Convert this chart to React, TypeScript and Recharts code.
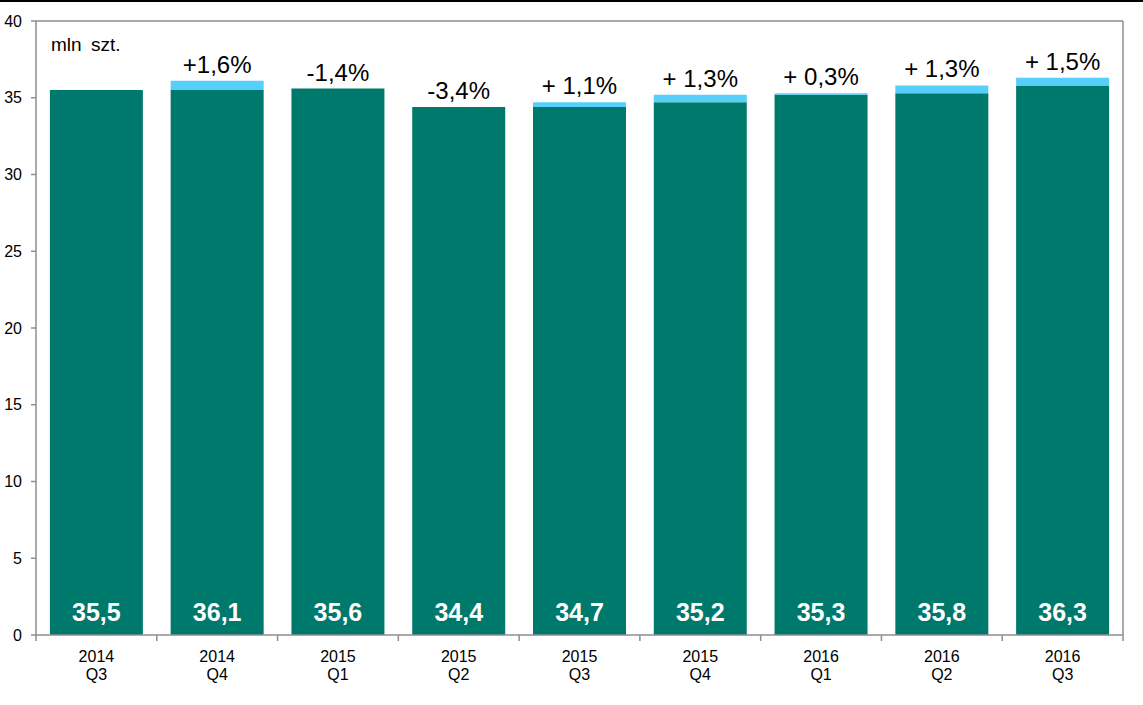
import { BarChart, Bar, XAxis, YAxis, ReferenceLine, LabelList } from 'recharts';

const YEARS = ['2014', '2014', '2015', '2015', '2015', '2015', '2016', '2016', '2016'];
const QUARTERS = ['Q3', 'Q4', 'Q1', 'Q2', 'Q3', 'Q4', 'Q1', 'Q2', 'Q3'];
const VALUES = [35.5, 36.1, 35.6, 34.4, 34.7, 35.2, 35.3, 35.8, 36.3];
const VALUE_LABELS = ['35,5', '36,1', '35,6', '34,4', '34,7', '35,2', '35,3', '35,8', '36,3'];
const CHANGES = ['', '+1,6%', '-1,4%', '-3,4%', '+ 1,1%', '+ 1,3%', '+ 0,3%', '+ 1,3%', '+ 1,5%'];
const Y_TICKS = [0, 5, 10, 15, 20, 25, 30, 35, 40];

const TEAL = '#00796d';
const LIGHT = '#57cffb';
const GRAY = '#8e8e8e';
const FONT = '"Liberation Sans", Arial, sans-serif';

const W = 1143;
const H = 705;
const PLOT_LEFT = 36;
const PLOT_RIGHT = 1123;
const BAND = (PLOT_RIGHT - PLOT_LEFT) / VALUES.length;

// dark part = previous quarter (or current if it fell), light part = growth
const data = VALUES.map((v, i) => {
  const prev = i === 0 ? v : VALUES[i - 1];
  const base = Math.min(v, prev);
  return {
    name: i,
    base,
    inc: +(v - base).toFixed(2),
  };
});

function XTick(props: any) {
  const { x, y, index } = props;
  const last = index === VALUES.length - 1;
  return (
    <g>
      <line x1={x - BAND / 2} x2={x - BAND / 2} y1={y} y2={y + 6} stroke={GRAY} strokeWidth={1.5} />
      {last && <line x1={x + BAND / 2} x2={x + BAND / 2} y1={y} y2={y + 6} stroke={GRAY} strokeWidth={1.5} />}
      <text x={x} y={y + 27} textAnchor="middle" fontSize={16} fontFamily={FONT} fill="#000">
        {YEARS[index]}
      </text>
      <text x={x} y={y + 45} textAnchor="middle" fontSize={16} fontFamily={FONT} fill="#000">
        {QUARTERS[index]}
      </text>
    </g>
  );
}

// value inside the bar bottom, change label above the whole stack
function BarLabels(props: any) {
  const { x, y, width, height, index } = props;
  const d = data[index];
  const pxPerUnit = height / d.base;
  const top = y - d.inc * pxPerUnit;
  return (
    <g>
      <text
        x={x + width / 2}
        y={y + height - 14}
        textAnchor="middle"
        fontSize={25}
        fontWeight="bold"
        fontFamily={FONT}
        fill="#fff"
      >
        {VALUE_LABELS[index]}
      </text>
      {CHANGES[index] && (
        <text x={x + width / 2} y={top - 8} textAnchor="middle" fontSize={24} fontFamily={FONT} fill="#000">
          {CHANGES[index]}
        </text>
      )}
    </g>
  );
}

export default function App() {
  return (
    <div style={{ position: 'absolute', left: 0, top: 0, width: W, height: H, background: '#fff' }}>
      <div style={{ position: 'absolute', left: 0, top: 0, width: W, height: 2, background: '#000' }} />
      <BarChart
        width={W}
        height={H}
        data={data}
        margin={{ top: 21, right: 0, left: 0, bottom: 20 }}
        barCategoryGap="11.5%"
      >
        <XAxis
          dataKey="name"
          height={50}
          interval={0}
          tickSize={0}
          tickMargin={0}
          tickLine={false}
          axisLine={{ stroke: GRAY, strokeWidth: 1.5 }}
          tick={<XTick />}
        />
        <YAxis
          width={36}
          domain={[0, 40]}
          ticks={Y_TICKS}
          interval={0}
          tickSize={5}
          tickMargin={9}
          axisLine={{ stroke: GRAY, strokeWidth: 1.5 }}
          tickLine={{ stroke: GRAY, strokeWidth: 1.5 }}
          tick={{ fontSize: 16, fontFamily: FONT, fill: '#000' }}
        />
        <YAxis
          yAxisId="r"
          orientation="right"
          width={20}
          tick={false}
          tickLine={false}
          axisLine={{ stroke: GRAY, strokeWidth: 1.5 }}
        />
        <ReferenceLine y={40} stroke={GRAY} strokeWidth={1.5} />
        <Bar dataKey="base" stackId="a" fill={TEAL} isAnimationActive={false}>
          <LabelList dataKey="base" content={<BarLabels />} />
        </Bar>
        <Bar dataKey="inc" stackId="a" fill={LIGHT} isAnimationActive={false} />
      </BarChart>
      <svg
        width={200}
        height={80}
        style={{ position: 'absolute', left: 0, top: 0, pointerEvents: 'none' }}
      >
        <text x={51} y={51} fontSize={19} fontFamily={FONT} fill="#000" wordSpacing={4}>
          mln szt.
        </text>
      </svg>
    </div>
  );
}
